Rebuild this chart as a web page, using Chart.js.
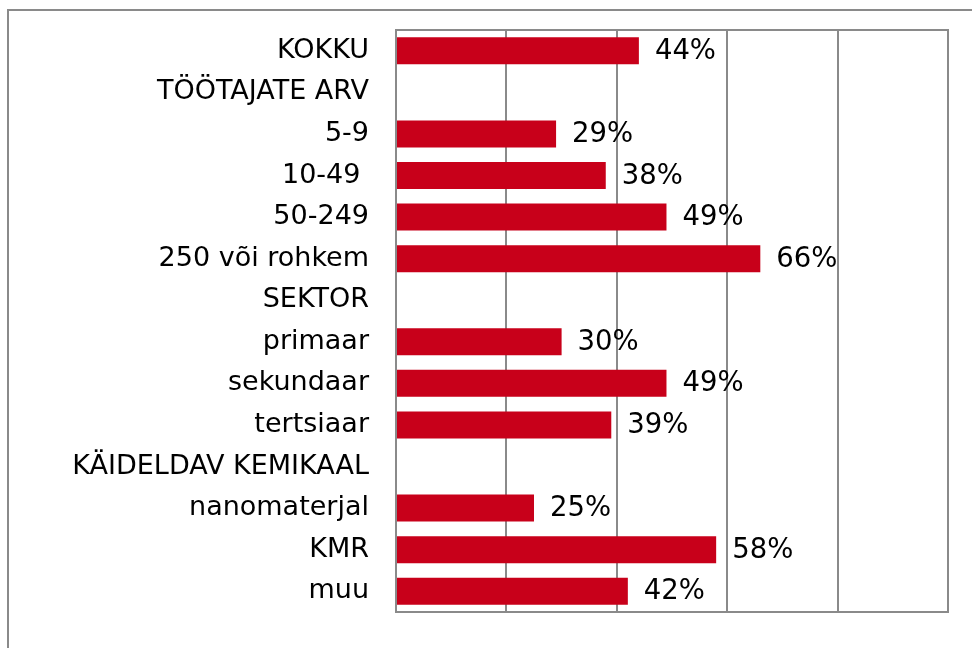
<!DOCTYPE html>
<html>
<head>
<meta charset="utf-8">
<script src="https://cdn.jsdelivr.net/npm/chart.js@4/dist/chart.umd.min.js"></script>
<style>
html,body{margin:0;padding:0;background:#fff;overflow:hidden;}
#wrap{position:relative;width:972px;height:648px;}
</style>
</head>
<body>
<div id="wrap"><canvas id="c" width="972" height="648"></canvas></div>
<script>
const categories = ['KOKKU','TÖÖTAJATE ARV','5-9','10-49 ','50-249','250 või rohkem','SEKTOR','primaar','sekundaar','tertsiaar','KÄIDELDAV KEMIKAAL','nanomaterjal','KMR','muu'];
const values = [44,null,29,38,49,66,null,30,49,39,null,25,58,42];
const xMin = 0, xMax = 100, xStep = 20;

const FONT = "'DejaVu Sans', Verdana, sans-serif";
const FSIZE = 27;
const VSIZE = 27.5;
const GRID = '#8a8a8a';

const framePlugin = {
  id: 'frame',
  beforeDraw(chart) {
    const ctx = chart.ctx;
    ctx.save();
    ctx.fillStyle = '#fff';
    ctx.fillRect(0, 0, chart.width, chart.height);
    ctx.strokeStyle = GRID;
    ctx.lineWidth = 2;
    ctx.beginPath();
    ctx.moveTo(8, 648);
    ctx.lineTo(8, 10);
    ctx.lineTo(972, 10);
    ctx.stroke();
    ctx.restore();
  },
  afterDatasetsDraw(chart) {
    const ctx = chart.ctx;
    const a = chart.chartArea;
    ctx.save();
    ctx.strokeStyle = GRID;
    ctx.lineWidth = 2;
    ctx.strokeRect(a.left, a.top, a.right - a.left, a.bottom - a.top);
    ctx.fillStyle = '#000';
    ctx.font = VSIZE + 'px ' + FONT;
    ctx.textAlign = 'left';
    ctx.textBaseline = 'middle';
    const meta = chart.getDatasetMeta(0);
    meta.data.forEach((bar, i) => {
      const v = chart.data.datasets[0].data[i];
      if (v === null || v === undefined) return;
      ctx.fillText(v + '%', bar.x + 16, bar.y + 1);
    });
    ctx.restore();
  }
};

new Chart(document.getElementById('c'), {
  type: 'bar',
  data: {
    labels: categories,
    datasets: [{
      data: values,
      backgroundColor: '#C8001A',
      borderWidth: 0,
      barPercentage: 0.65,
      categoryPercentage: 1.0
    }]
  },
  options: {
    indexAxis: 'y',
    responsive: false,
    animation: false,
    events: [],
    layout: { padding: { left: 0, right: 24, top: 30, bottom: 36 } },
    plugins: { legend: { display: false }, tooltip: { enabled: false } },
    scales: {
      x: {
        min: xMin, max: xMax,
        ticks: { stepSize: xStep, display: false },
        grid: { color: GRID, lineWidth: 2, drawTicks: false },
        border: { display: false },
        afterFit(s) { s.height = 0; s.paddingLeft = 0; s.paddingRight = 0; }
      },
      y: {
        ticks: { color: '#000', font: { family: FONT, size: FSIZE }, padding: 27 },
        grid: { display: false, drawTicks: false },
        border: { display: false },
        afterFit(s) { s.width = 396; s.paddingTop = 0; s.paddingBottom = 0; }
      }
    }
  },
  plugins: [framePlugin]
});
</script>
</body>
</html>
